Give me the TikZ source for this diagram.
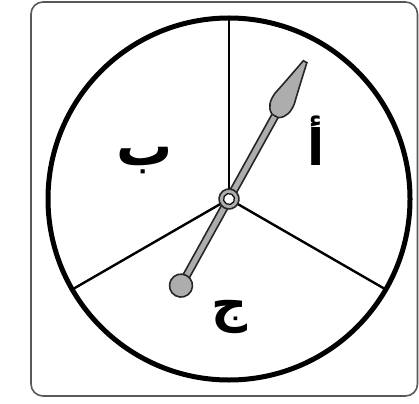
\documentclass[tikz,border=0pt]{standalone}
\usepackage{fontspec}
\newfontfamily\arabicfont[Script=Arabic]{DejaVu Sans}
\TeXXeTstate=1
\begin{document}
\begin{tikzpicture}[x=1pt,y=-1pt,
  frame/.style={draw=black!65,line width=1.6pt,rounded corners=12pt},
  rim/.style={draw=black,line width=5pt},
  sector/.style={draw=black,line width=2.4pt},
  needle/.style={fill=black!32,draw=black!85,line width=1.6pt},
  lbl/.style={font=\arabicfont\bfseries\fontsize{50}{52}\selectfont,inner sep=0pt}]
\useasboundingbox (0,0) rectangle (419,403);
\draw[frame] (31,2) rectangle (417.5,396);
\coordinate (c) at (229,199);
\coordinate (top) at (229,18);
\coordinate (left) at (72.2,289.5);
\coordinate (right) at (385.8,289.5);
\draw[rim] (c) circle[radius=181];
\draw[sector] (c) -- (top);
\draw[sector] (c) -- (left);
\draw[sector] (c) -- (right);
\node[lbl] (a) at (316,141) {\beginR أ\endR};
\node[lbl,font=\arabicfont\bfseries\fontsize{56}{58}\selectfont] (b) at (145,161) {\beginR ب\endR};
\node[lbl] (j) at (230,317) {\beginR ج\endR};
\begin{scope}[shift={(c)},rotate=61]
  \draw[needle] (-96,-3.5) rectangle (98,3.5);
  \draw[needle] (-99,0) circle[radius=11.5];
  \draw[needle] (95,-3.5) .. controls (99,-11) and (107,-12) .. (115,-11)
     .. controls (128,-8) and (145,-4.5) .. (157,-2) -- (157,2)
     .. controls (145,4.5) and (128,8) .. (115,11)
     .. controls (107,12) and (99,11) .. (95,3.5) -- cycle;
  \draw[needle] (0,0) circle[radius=10];
  \draw[fill=white,draw=black,line width=1.2pt] (0,0) circle[radius=5.5];
\end{scope}
\end{tikzpicture}
\end{document}
